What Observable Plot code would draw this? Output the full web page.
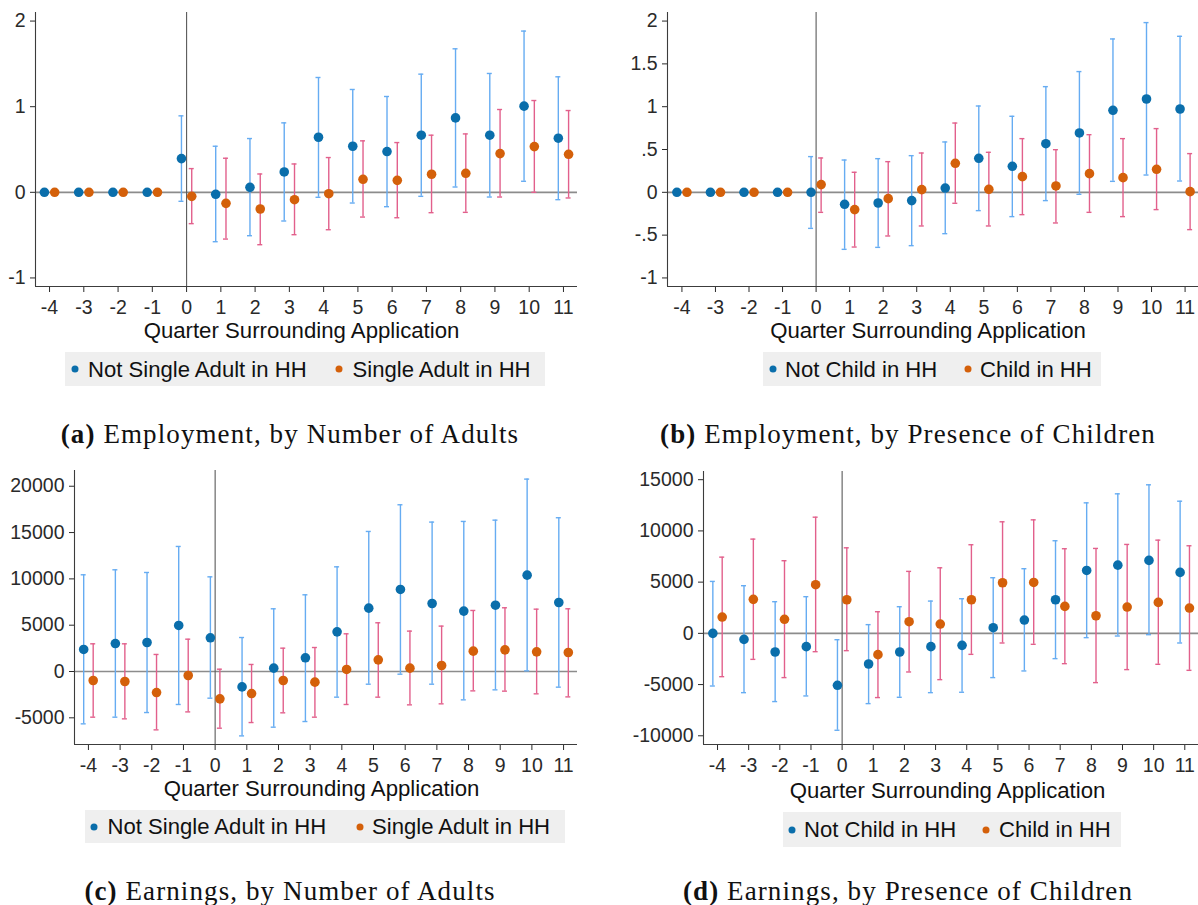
<!DOCTYPE html>
<html>
<head>
<meta charset="utf-8">
<script src="https://cdn.jsdelivr.net/npm/d3@7"></script>
<script src="https://cdn.jsdelivr.net/npm/@observablehq/plot@0.6"></script>
<style>
  body { margin: 0; background: #fff; }
  #fig { position: relative; width: 1198px; height: 905px; overflow: hidden;
         font-family: "Liberation Sans", Arial, sans-serif; color: #111; }
  .abs { position: absolute; }
  .mid { transform: translate(-50%, -50%); white-space: nowrap; line-height: 1; }
  .xtitle { font-size: 22.2px; }
  .legend { background: #efefef; }
  .ltext { font-size: 22.1px; transform: translateY(-50%); white-space: nowrap; line-height: 1; }
  .ldot { width: 7px; height: 7px; border-radius: 50%; transform: translate(-50%, -50%); }
  .caption { font-family: "Liberation Serif", "Times New Roman", serif; font-size: 27px;
             letter-spacing: 1.1px; }
</style>
</head>
<body>
<div id="fig"></div>
<script>
// Quarters relative to application
const quarters = [-4, -3, -2, -1, 0, 1, 2, 3, 4, 5, 6, 7, 8, 9, 10, 11];

// (a) Employment, by number of adults
const empNotSingle   = [0, 0, 0, 0, 0.394, -0.023, 0.058, 0.238, 0.643, 0.538, 0.476, 0.667, 0.869, 0.667, 1.006, 0.632];
const empNotSingleLo = [null, null, null, null, -0.105, -0.577, -0.507, -0.335, -0.058, -0.125, -0.168, -0.047, 0.062, -0.055, 0.129, -0.086];
const empNotSingleHi = [null, null, null, null, 0.893, 0.538, 0.628, 0.811, 1.341, 1.201, 1.119, 1.380, 1.676, 1.388, 1.883, 1.349];
const empSingle      = [0, 0, 0, 0, -0.047, -0.129, -0.195, -0.086, -0.016, 0.152, 0.140, 0.211, 0.222, 0.452, 0.534, 0.444];
const empSingleLo    = [null, null, null, null, -0.366, -0.546, -0.612, -0.495, -0.437, -0.289, -0.297, -0.238, -0.234, -0.055, 0.000, -0.066];
const empSingleHi    = [null, null, null, null, 0.277, 0.398, 0.214, 0.331, 0.406, 0.601, 0.581, 0.667, 0.682, 0.967, 1.072, 0.955];

// (b) Employment, by presence of children
const empNoChild     = [0, 0, 0, 0, 0, -0.140, -0.125, -0.097, 0.050, 0.397, 0.304, 0.568, 0.693, 0.958, 1.090, 0.973];
const empNoChildLo   = [null, null, null, null, -0.421, -0.666, -0.643, -0.623, -0.483, -0.214, -0.284, -0.097, -0.023, 0.128, 0.202, 0.132];
const empNoChildHi   = [null, null, null, null, 0.417, 0.377, 0.393, 0.428, 0.588, 1.008, 0.888, 1.234, 1.410, 1.791, 1.982, 1.822];
const empChild       = [0, 0, 0, 0, 0.090, -0.202, -0.074, 0.031, 0.339, 0.035, 0.183, 0.074, 0.218, 0.171, 0.269, 0.008];
const empChildLo     = [null, null, null, null, -0.234, -0.639, -0.510, -0.393, -0.128, -0.393, -0.261, -0.358, -0.234, -0.284, -0.202, -0.436];
const empChildHi     = [null, null, null, null, 0.401, 0.234, 0.358, 0.459, 0.809, 0.467, 0.627, 0.498, 0.673, 0.627, 0.744, 0.452];

// (c) Earnings, by number of adults
const earnNotSingle   = [2380, 3020, 3130, 4970, 3640, -1660, 360, 1480, 4280, 6840, 8860, 7340, 6520, 7160, 10400, 7450];
const earnNotSingleLo = [-5650, -4930, -4430, -3560, -2880, -6950, -6010, -5400, -2770, -1370, -290, -1370, -3060, -1980, 70, -1690];
const earnNotSingleHi = [10440, 10980, 10690, 13500, 10220, 3670, 6770, 8280, 11300, 15120, 18000, 16130, 16200, 16340, 20770, 16600];
const earnSingle      = [-970, -1080, -2270, -430, -2950, -2380, -970, -1150, 220, 1260, 360, 650, 2200, 2340, 2120, 2050];
const earnSingleLo    = [-4930, -5110, -6300, -4360, -6120, -5510, -4460, -4930, -3560, -2770, -3600, -3490, -2090, -2120, -2410, -2740];
const earnSingleHi    = [2990, 2990, 1840, 3490, 250, 760, 2520, 2590, 4070, 5260, 4360, 4900, 6590, 6880, 6730, 6770];

// (d) Earnings, by presence of children
const earnNoChild     = [0, -590, -1820, -1300, -5070, -2990, -1820, -1300, -1170, 550, 1300, 3280, 6140, 6660, 7120, 5950];
const earnNoChildLo   = [-5140, -5790, -6660, -6110, -9460, -6860, -6240, -5790, -5750, -4320, -3670, -2470, -420, -260, -130, -940];
const earnNoChildHi   = [5070, 4650, 3090, 3580, -620, 850, 2600, 3150, 3380, 5430, 6310, 9040, 12740, 13620, 14500, 12900];
const earnChild       = [1590, 3320, 1370, 4750, 3280, -2080, 1140, 910, 3280, 4940, 4970, 2630, 1720, 2570, 3020, 2470];
const earnChildLo     = [-4230, -2540, -4320, -1790, -1690, -6270, -3770, -4520, -2050, -940, -1070, -2960, -4810, -3540, -3020, -3610];
const earnChildHi     = [7440, 9200, 7090, 11340, 8350, 2110, 6050, 6400, 8650, 10890, 11080, 8260, 8290, 8680, 9100, 8550];

// Y-axis ticks and their printed labels
const empTicksA   = [-1, 0, 1, 2];
const empLabelsA  = ["-1", "0", "1", "2"];
const empTicksB   = [-1, -0.5, 0, 0.5, 1, 1.5, 2];
const empLabelsB  = ["-1", "-.5", "0", ".5", "1", "1.5", "2"];
const earnTicksC  = [-5000, 0, 5000, 10000, 15000, 20000];
const earnLabelsC = ["-5000", "0", "5000", "10000", "15000", "20000"];
const earnTicksD  = [-10000, -5000, 0, 5000, 10000, 15000];
const earnLabelsD = ["-10000", "-5000", "0", "5000", "10000", "15000"];

// Legend and caption text
const adultsLegend   = ["Not Single Adult in HH", "Single Adult in HH"];
const childLegend    = ["Not Child in HH", "Child in HH"];
const xTitle         = "Quarter Surrounding Application";
const captionLetters = ["(a)", "(b)", "(c)", "(d)"];
const captionTexts   = ["Employment, by Number of Adults", "Employment, by Presence of Children",
                        "Earnings, by Number of Adults", "Earnings, by Presence of Children"];

// Styling
const dotColors = ["#0a6eab", "#d4600a"];
const ciColors  = ["#66acf2", "#e2608c"];
const seriesShift = [-0.15, 0.15];

const panels = [
  { left: 0, top: 0, width: 590, height: 322, ml: 35, mr: 13, mt: 12, mb: 36,
    xDomain: [-4.41, 11.41], yDomain: [-1.1, 2.1], ticks: empTicksA, labels: empLabelsA,
    series: [[empNotSingle, empNotSingleLo, empNotSingleHi], [empSingle, empSingleLo, empSingleHi]],
    legend: adultsLegend, title: [301.5, 331],
    box: [65, 352, 480, 34], items: [[75, 88], [339, 352.5]],
    caption: [290, 433.5] },
  { left: 610, top: 0, width: 588, height: 322, ml: 57, mr: 0, mt: 12, mb: 36,
    xDomain: [-4.43, 11.4], yDomain: [-1.1, 2.1], ticks: empTicksB, labels: empLabelsB,
    series: [[empNoChild, empNoChildLo, empNoChildHi], [empChild, empChildLo, empChildHi]],
    legend: childLegend, title: [928, 331],
    box: [763, 352, 338, 34], items: [[773, 785], [968, 980]],
    caption: [908, 433.5] },
  { left: 0, top: 440, width: 590, height: 335, ml: 74, mr: 13, mt: 30, mb: 31,
    xDomain: [-4.44, 11.44], yDomain: [-7880, 21700], ticks: earnTicksC, labels: earnLabelsC,
    series: [[earnNotSingle, earnNotSingleLo, earnNotSingleHi], [earnSingle, earnSingleLo, earnSingleHi]],
    legend: adultsLegend, title: [321.5, 789],
    box: [85, 810, 480, 33], items: [[94, 107.5], [360, 372]],
    caption: [290, 891] },
  { left: 610, top: 440, width: 588, height: 335, ml: 93, mr: 0, mt: 31, mb: 31,
    xDomain: [-4.45, 11.44], yDomain: [-10850, 15800], ticks: earnTicksD, labels: earnLabelsD,
    series: [[earnNoChild, earnNoChildLo, earnNoChildHi], [earnChild, earnChildLo, earnChildHi]],
    legend: childLegend, title: [947.5, 790.5],
    box: [783, 812, 338, 35], items: [[792, 804], [986, 999]],
    caption: [908, 891] }
];

const fig = document.getElementById("fig");

function el(tag, cls, css, text) {
  const e = document.createElement(tag);
  if (cls) e.className = cls;
  Object.assign(e.style, css || {});
  if (text != null) e.textContent = text;
  fig.appendChild(e);
  return e;
}

panels.forEach((p, k) => {
  // One table per series: estimate plus confidence bounds
  const seriesRows = p.series.map(([est, lo, hi], s) =>
    quarters.map((q, i) => ({ q, x: q + seriesShift[s], est: est[i], lo: lo[i], hi: hi[i] })));

  const marks = [
    Plot.ruleY([0], { stroke: "#8c8c8c", strokeWidth: 1.7 }),
    Plot.ruleX([0], { stroke: "#5a5a5a", strokeWidth: 1.1 })
  ];
  seriesRows.forEach((rows, s) => {
    const ci = rows.filter(d => d.lo != null && d.hi != null);
    marks.push(
      Plot.ruleX(ci, { x: "x", y1: "lo", y2: "hi", stroke: ciColors[s], strokeWidth: 1.4 }),
      Plot.ruleY(ci, { y: "lo", x1: "x", x2: "x", insetLeft: -2.5, insetRight: -2.5, stroke: ciColors[s], strokeWidth: 1.4 }),
      Plot.ruleY(ci, { y: "hi", x1: "x", x2: "x", insetLeft: -2.5, insetRight: -2.5, stroke: ciColors[s], strokeWidth: 1.4 })
    );
  });
  seriesRows.forEach((rows, s) => {
    marks.push(Plot.dot(rows, { x: "x", y: "est", r: 4.8, fill: dotColors[s], stroke: "none" }));
  });
  marks.push(
    Plot.axisX(quarters, { tickSize: 6, tickPadding: 8, tickFormat: d => String(d), label: null }),
    Plot.axisY(p.ticks, { tickSize: 5, tickPadding: 5, tickFormat: (d, i) => p.labels[i], label: null }),
    Plot.ruleX([p.xDomain[0]], { stroke: "#3c3c3c", strokeWidth: 1.1 }),
    Plot.ruleY([p.yDomain[0]], { stroke: "#3c3c3c", strokeWidth: 1.1 })
  );

  const chart = Plot.plot({
    width: p.width, height: p.height,
    marginLeft: p.ml, marginRight: p.mr, marginTop: p.mt, marginBottom: p.mb,
    style: { fontFamily: "'Liberation Sans', Arial, sans-serif", fontSize: "19.5px",
             color: "#2a2a2a", background: "none", overflow: "visible" },
    x: { domain: p.xDomain, label: null },
    y: { domain: p.yDomain, label: null },
    marks
  });
  const holder = el("div", "abs", { left: p.left + "px", top: p.top + "px" });
  holder.appendChild(chart);

  // Axis title
  el("div", "abs mid xtitle", { left: p.title[0] + "px", top: p.title[1] + "px" }, xTitle);

  // Legend
  const [bx, by, bw, bh] = p.box;
  el("div", "abs legend", { left: bx + "px", top: by + "px", width: bw + "px", height: bh + "px" });
  const cy = by + bh / 2;
  p.items.forEach(([dx, tx], s) => {
    el("div", "abs ldot", { left: dx + "px", top: cy + "px", background: dotColors[s] });
    el("div", "abs ltext", { left: tx + "px", top: (cy + 0.5) + "px" }, p.legend[s]);
  });

  // Caption
  const cap = el("div", "abs mid caption", { left: p.caption[0] + "px", top: p.caption[1] + "px" });
  const b = document.createElement("b");
  b.textContent = captionLetters[k];
  cap.appendChild(b);
  cap.appendChild(document.createTextNode(" " + captionTexts[k]));
});
</script>
</body>
</html>
